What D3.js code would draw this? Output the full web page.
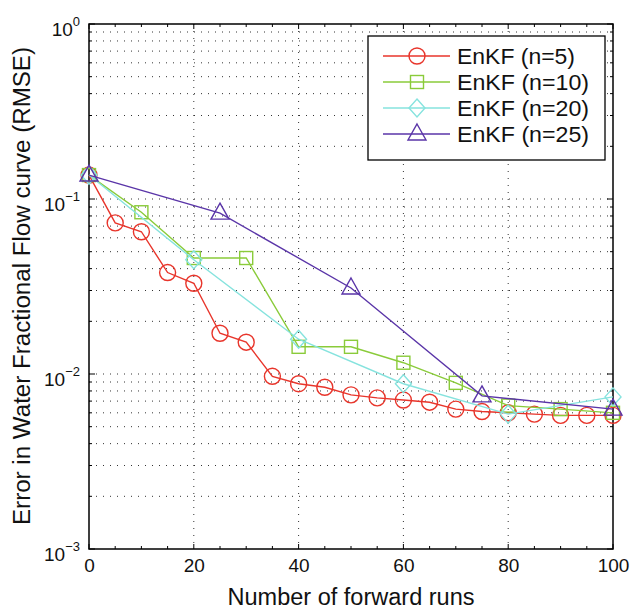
<!DOCTYPE html>
<html><head><meta charset="utf-8">
<script src="https://cdn.jsdelivr.net/npm/d3@7"></script>
<style>body{margin:0;background:#fff}text{font-family:"Liberation Sans",Arial,sans-serif}</style>
</head><body><svg id="c" width="630" height="609"></svg>
<script>
const x5 = [0,5,10,15,20,25,30,35,40,45,50,55,60,65,70,75,80,85,90,95,100];
const y5 = [0.137,0.073,0.065,0.038,0.033,0.0171,0.0152,0.0097,0.0088,0.0084,0.0076,0.0073,0.0071,0.0069,0.0063,0.0061,0.006,0.0059,0.0058,0.0058,0.0058];
const x10 = [0,10,20,30,40,50,60,70,80,90,100];
const y10 = [0.137,0.084,0.046,0.046,0.0143,0.0143,0.0116,0.0089,0.0066,0.0063,0.006];
const x20 = [0,20,40,60,80,100];
const y20 = [0.137,0.045,0.0158,0.0088,0.0059,0.0074];
const x25 = [0,25,50,75,100];
const y25 = [0.137,0.083,0.031,0.0075,0.0063];
const labels = ["EnKF (n=5)","EnKF (n=10)","EnKF (n=20)","EnKF (n=25)"];
const xTicks = [0,20,40,60,80,100];
const yTicks = [1e-3,1e-2,1e-1,1];

const colors = ["#e8352b","#8acb3a","#86e3de","#5a35a8"];
const markers = ["circle","square","diamond","triangle"];
const series = [[x5,y5],[x10,y10],[x20,y20],[x25,y25]];

const L=89,R=613,T=24,B=549;
const svg=d3.select("#c");
const x=d3.scaleLinear().domain([0,100]).range([L,R]);
const y=d3.scaleLog().domain([1e-3,1]).range([B,T]);

// grid
const g=svg.append("g");
const minor=[];
for(let e=-3;e<0;e++) for(let m=1;m<10;m++) minor.push(m*Math.pow(10,e));
minor.push(1);
g.selectAll(".hg").data(minor.filter(v=>v>1e-3&&v<1)).join("line")
 .attr("x1",L).attr("x2",R).attr("y1",d=>y(d)).attr("y2",d=>y(d))
 .attr("stroke","#333").attr("stroke-width",1).attr("stroke-dasharray","1,6");
g.selectAll(".vg").data(xTicks.filter(v=>v>0&&v<100)).join("line")
 .attr("x1",d=>x(d)).attr("x2",d=>x(d)).attr("y1",T).attr("y2",B)
 .attr("stroke","#333").attr("stroke-width",1).attr("stroke-dasharray","1,6");

// axes
const ax=d3.axisBottom(x).tickValues(xTicks).tickSize(0).tickPadding(10).tickFormat(d3.format("d"));
const axg=svg.append("g").attr("transform",`translate(0,${B})`).call(ax);
axg.select(".domain").remove();
axg.selectAll("text").attr("font-size",19).attr("fill","#111");
const axTop=svg.append("g");
xTicks.forEach(v=>{
  axTop.append("line").attr("x1",x(v)).attr("x2",x(v)).attr("y1",B).attr("y2",B-5).attr("stroke","#000");
  axTop.append("line").attr("x1",x(v)).attr("x2",x(v)).attr("y1",T).attr("y2",T+5).attr("stroke","#000");
});
d3.range(0,101,5).filter(v=>v%20).forEach(v=>{
  axTop.append("line").attr("x1",x(v)).attr("x2",x(v)).attr("y1",B).attr("y2",B-3).attr("stroke","#000");
  axTop.append("line").attr("x1",x(v)).attr("x2",x(v)).attr("y1",T).attr("y2",T+3).attr("stroke","#000");
});
minor.forEach(v=>{
  const isMaj=Math.abs(Math.log10(v)-Math.round(Math.log10(v)))<1e-9;
  const len=isMaj?6:3;
  axTop.append("line").attr("x1",L).attr("x2",L+len).attr("y1",y(v)).attr("y2",y(v)).attr("stroke","#000");
  axTop.append("line").attr("x1",R).attr("x2",R-len).attr("y1",y(v)).attr("y2",y(v)).attr("stroke","#000");
});
const ay=svg.append("g");
yTicks.forEach(v=>{
  const e=Math.round(Math.log10(v));
  const t=ay.append("text").attr("x",L-9).attr("y",y(v)+12).attr("text-anchor","end").attr("font-size",19).attr("fill","#111");
  t.append("tspan").text("10");
  t.append("tspan").attr("dy",-10).attr("font-size",13).text(e===0?"0":"\u2212"+(-e));
});
svg.append("rect").attr("x",L).attr("y",T).attr("width",R-L).attr("height",B-T)
 .attr("fill","none").attr("stroke","#000").attr("stroke-width",1.5);

// labels
svg.append("text").attr("x",351).attr("y",605).attr("text-anchor","middle").attr("font-size",23)
 .attr("textLength",247).attr("lengthAdjust","spacingAndGlyphs").attr("fill","#111").text("Number of forward runs");
svg.append("text").attr("transform",`translate(30,286) rotate(-90)`).attr("text-anchor","middle").attr("font-size",23)
 .attr("textLength",478).attr("lengthAdjust","spacingAndGlyphs").attr("fill","#111").text("Error in Water Fractional Flow curve (RMSE)");

function drawMarker(sel,type,cx,cy){
  if(type==="circle") sel.append("circle").attr("cx",cx).attr("cy",cy).attr("r",8);
  else if(type==="square") sel.append("rect").attr("x",cx-6.5).attr("y",cy-6.5).attr("width",13).attr("height",13);
  else if(type==="diamond") sel.append("path").attr("d",`M${cx},${cy-9}L${cx+8},${cy}L${cx},${cy+9}L${cx-8},${cy}Z`);
  else sel.append("path").attr("d",`M${cx},${cy-10}L${cx+9},${cy+6}L${cx-9},${cy+6}Z`);
}
const line=d3.line().x(d=>x(d[0])).y(d=>y(d[1]));
series.forEach(([xs,ys],i)=>{
  const pts=xs.map((v,j)=>[v,ys[j]]);
  const sg=svg.append("g").attr("fill","none").attr("stroke",colors[i]).attr("stroke-width",1.4);
  sg.append("path").attr("d",line(pts));
  pts.forEach(p=>drawMarker(sg,markers[i],x(p[0]),y(p[1])));
});

// legend
const lg=svg.append("g");
lg.append("rect").attr("x",368).attr("y",36).attr("width",237).attr("height",124).attr("fill","#fff").attr("stroke","#000").attr("stroke-width",1.3);
labels.forEach((lab,i)=>{
  const cy=56+i*26;
  const sg=lg.append("g").attr("fill","none").attr("stroke",colors[i]).attr("stroke-width",1.4);
  sg.append("line").attr("x1",383).attr("x2",450).attr("y1",cy).attr("y2",cy);
  drawMarker(sg,markers[i],417,cy);
  lg.append("text").attr("x",457).attr("y",cy+8).attr("font-size",22).attr("fill","#111")
    .attr("textLength",lab.length===10?118:132).attr("lengthAdjust","spacingAndGlyphs").text(lab);
});
</script></body></html>
